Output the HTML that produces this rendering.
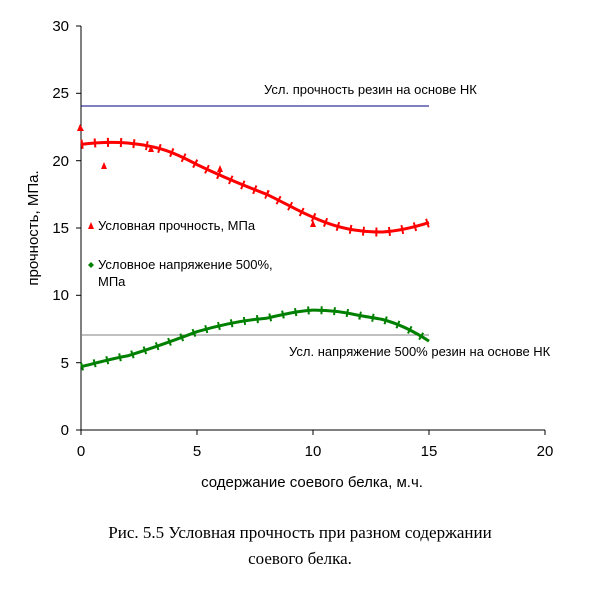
<!DOCTYPE html>
<html><head><meta charset="utf-8"><style>
body{margin:0;background:#fff;}
svg text{font-family:"Liberation Sans",sans-serif;}
</style></head><body>
<svg width="600" height="591" viewBox="0 0 600 591" xmlns="http://www.w3.org/2000/svg">
<rect width="600" height="591" fill="#fff"/>
<line x1="81" y1="26" x2="81" y2="430" stroke="#000"/>
<line x1="81" y1="430" x2="545" y2="430" stroke="#000"/>
<g stroke="#000">
<line x1="76" y1="26" x2="81" y2="26"/><line x1="76" y1="93.3" x2="81" y2="93.3"/><line x1="76" y1="160.7" x2="81" y2="160.7"/><line x1="76" y1="228" x2="81" y2="228"/><line x1="76" y1="295.3" x2="81" y2="295.3"/><line x1="76" y1="362.7" x2="81" y2="362.7"/><line x1="76" y1="430" x2="81" y2="430"/>
<line x1="81" y1="430" x2="81" y2="435"/><line x1="197" y1="430" x2="197" y2="435"/><line x1="313" y1="430" x2="313" y2="435"/><line x1="429" y1="430" x2="429" y2="435"/><line x1="545" y1="430" x2="545" y2="435"/>
</g>
<g font-size="15" text-anchor="end">
<text x="69" y="31">30</text><text x="69" y="98">25</text><text x="69" y="166">20</text><text x="69" y="233">15</text><text x="69" y="300">10</text><text x="69" y="368">5</text><text x="69" y="435">0</text>
</g>
<g font-size="15" text-anchor="middle">
<text x="81" y="456">0</text><text x="197" y="456">5</text><text x="313" y="456">10</text><text x="429" y="456">15</text><text x="545" y="456">20</text>
</g>
<text x="312" y="487" font-size="15" text-anchor="middle">содержание соевого белка, м.ч.</text>
<text transform="translate(38,228) rotate(-90)" font-size="15" text-anchor="middle">прочность, МПа.</text>
<line x1="81" y1="106" x2="429" y2="106" stroke="#000080" stroke-width="1"/>
<text x="264" y="94" font-size="13">Усл. прочность резин на основе НК</text>
<line x1="81" y1="335" x2="429" y2="335" stroke="#808080" stroke-width="1"/>
<text x="289" y="356" font-size="13">Усл. напряжение 500% резин на основе НК</text>
<path id="r" d="M81,144.4 C100,142 115,142 127.4,143 C160,146 175,153 197,164.6 C225,178 245,186 266.6,194.3 C285,203 298,211 313,217.2 C330,225 345,229 359.4,230.6 C368,232 375,232 382.6,232 C400,231 415,227 429,222.6" fill="none" stroke="#ff0000" stroke-width="3"/>
<path d="M81,144.4 C100,142 115,142 127.4,143 C160,146 175,153 197,164.6 C225,178 245,186 266.6,194.3 C285,203 298,211 313,217.2 C330,225 345,229 359.4,230.6 C368,232 375,232 382.6,232 C400,231 415,227 429,222.6" fill="none" stroke="#ff0000" stroke-width="9" stroke-dasharray="2 11"/>
<g fill="#ff0000">
<polygon points="80,124 77,131 84,131"/><polygon points="104,162 101,169 107,169"/><polygon points="220,165 217,172 223,172"/><polygon points="313,220 310,227 316,227"/><polygon points="151,145 148,152 154,152"/>
</g>
<path d="M81,366.7 C100,362 115,358 127.4,355.9 C150,349 175,340 197,331.7 C220,325 245,320 266.6,318.2 C285,314 298,311 313,310.1 C330,310 345,312 359.4,315.5 C368,317 375,318 382.6,319.5 C400,324 415,332 429,341.1" fill="none" stroke="#008000" stroke-width="3"/>
<path d="M81,366.7 C100,362 115,358 127.4,355.9 C150,349 175,340 197,331.7 C220,325 245,320 266.6,318.2 C285,314 298,311 313,310.1 C330,310 345,312 359.4,315.5 C368,317 375,318 382.6,319.5 C400,324 415,332 429,341.1" fill="none" stroke="#008000" stroke-width="8" stroke-dasharray="2 11"/>
<polygon points="91,222 88,229 94,229" fill="#ff0000"/>
<text x="98" y="230" font-size="13">Условная прочность, МПа</text>
<polygon points="91,262 94,265 91,268 88,265" fill="#008000"/>
<text x="98" y="269" font-size="13">Условное напряжение 500%,</text>
<text x="98" y="286" font-size="13">МПа</text>
<text x="300" y="538" font-size="17" text-anchor="middle" style="font-family:'Liberation Serif',serif">Рис. 5.5 Условная прочность при разном содержании</text>
<text x="300" y="564" font-size="17" text-anchor="middle" style="font-family:'Liberation Serif',serif">соевого белка.</text>
</svg>
</body></html>
